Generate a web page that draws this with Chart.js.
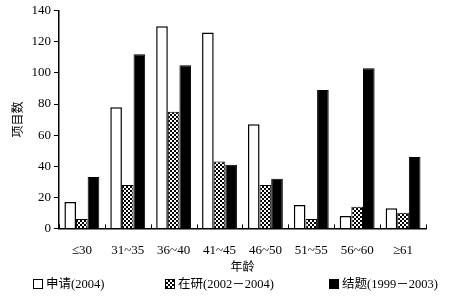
<!DOCTYPE html>
<html>
<head>
<meta charset="utf-8">
<script src="https://cdn.jsdelivr.net/npm/chart.js@4"></script>
<style>
  html, body { margin: 0; padding: 0; background: #fff; }
  #wrap { width: 459px; height: 303px; position: relative; }
  #leyenda { position: absolute; top: 276px; left: 0; width: 459px; height: 18px;
             font-family: "Liberation Serif", "Noto Sans CJK SC", serif; font-size: 12.5px; color: #000; }
  #leyenda span.item { position: absolute; top: 0; white-space: nowrap; line-height: 16px; }
  #leyenda span.caja { display: inline-block; width: 8px; height: 8px; border: 1px solid #000;
                       vertical-align: -1px; margin-right: 3px; }
</style>
</head>
<body>
<div id="wrap">
  <canvas id="myChart01"></canvas>
  <div id="leyenda"></div>
</div>
<script>
var etiquetas = ['≤30', '31~35', '36~40', '41~45', '46~50', '51~55', '56~60', '≥61'];
var series = ['申请(2004)', '在研(2002－2004)', '结题(1999－2003)'];
var datosSolicitud = [17, 78, 130, 126, 67, 15, 8, 13];
var datosEnCurso = [6, 28, 75, 43, 28, 6, 14, 10];
var datosCerrados = [33, 112, 105, 41, 32, 89, 103, 46];
var ticksY = [0, 20, 40, 60, 80, 100, 120, 140];

var serif = '"Liberation Serif", "Noto Sans CJK SC", serif';

// patron de cuadros para la serie "en curso"
function crearPatron() {
    var c = document.createElement('canvas');
    c.width = 4; c.height = 4;
    var g = c.getContext('2d');
    g.fillStyle = '#fff';
    g.fillRect(0, 0, 4, 4);
    g.fillStyle = '#000';
    g.fillRect(0, 0, 2, 2);
    g.fillRect(2, 2, 2, 2);
    return g.createPattern(c, 'repeat');
}
var patron = crearPatron();

// marcas pequenas entre categorias, hacia arriba
var marcasX = {
    id: 'marcasX',
    afterDraw: function (chart) {
        var x = chart.scales.x;
        var ctx = chart.ctx;
        ctx.save();
        ctx.strokeStyle = '#000';
        ctx.lineWidth = 1;
        for (var i = 0; i <= etiquetas.length; i++) {
            var px = Math.round(x.getPixelForValue(i - 0.5)) + 0.5;
            ctx.beginPath();
            ctx.moveTo(px, x.top);
            ctx.lineTo(px, x.top - 4);
            ctx.stroke();
        }
        ctx.restore();
    }
};

var ctx = document.getElementById('myChart01');
var myChart = new Chart(ctx, {
    type: 'bar',
    data: {
        labels: etiquetas,
        datasets: [{
            label: series[0],
            data: datosSolicitud,
            backgroundColor: '#fff',
            borderColor: '#000',
            borderWidth: 1.5
        }, {
            label: series[1],
            data: datosEnCurso,
            backgroundColor: patron,
            borderColor: '#000',
            borderWidth: 1
        }, {
            label: series[2],
            data: datosCerrados,
            backgroundColor: '#000',
            borderColor: '#000',
            borderWidth: 1
        }]
    },
    options: {
        responsive: true,
        maintainAspectRatio: false,
        animation: false,
        layout: { padding: { top: 6, right: 33, left: 8, bottom: 29 } },
        datasets: { bar: { categoryPercentage: 0.76, barPercentage: 1 } },
        plugins: {
            legend: { display: false },
            tooltip: { enabled: false },
            title: { display: false }
        },
        scales: {
            x: {
                grid: { display: false, drawTicks: false },
                border: { color: '#000', width: 1.5 },
                ticks: { color: '#000', font: { family: serif, size: 13 }, padding: 14, maxRotation: 0 },
                title: {
                    display: true, text: '年龄', color: '#000',
                    font: { family: serif, size: 12, lineHeight: 1 }, padding: { top: -10, bottom: 0 }
                }
            },
            y: {
                min: 0, max: 140,
                afterBuildTicks: function (axis) {
                    axis.ticks = ticksY.map(function (v) { return { value: v }; });
                },
                grid: { drawOnChartArea: false, tickLength: 5, color: '#000' },
                border: { color: '#000', width: 1.5 },
                ticks: { color: '#000', font: { family: serif, size: 13 }, padding: 3, autoSkip: false },
                title: {
                    display: true, text: '项目数', color: '#000',
                    font: { family: serif, size: 12 }, padding: { top: 4, bottom: 2 }
                }
            }
        }
    },
    plugins: [marcasX]
});

// leyenda en html
var posLeyenda = [33, 165, 329];
var fondos = ['#fff', 'conic-gradient(#000 25%, #fff 0 50%, #000 0 75%, #fff 0) 0 0 / 4px 4px', '#000'];
var ley = document.getElementById('leyenda');
series.forEach(function (s, i) {
    var item = document.createElement('span');
    item.className = 'item';
    item.style.left = posLeyenda[i] + 'px';
    var caja = document.createElement('span');
    caja.className = 'caja';
    caja.style.background = fondos[i];
    item.appendChild(caja);
    item.appendChild(document.createTextNode(s));
    ley.appendChild(item);
});
</script>
</body>
</html>
